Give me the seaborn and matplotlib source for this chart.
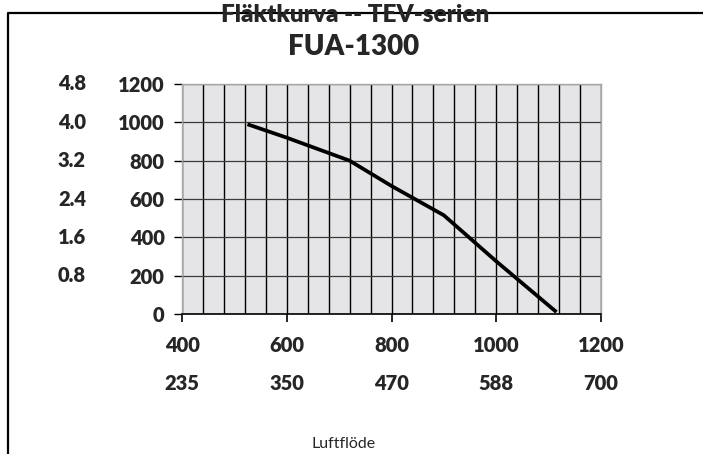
import matplotlib
matplotlib.use("Agg")
import matplotlib.pyplot as plt
import matplotlib.transforms as mtransforms
from matplotlib.lines import Line2D
import numpy as np
import pandas as pd
import seaborn as sns

# Fan curve
flow = [525, 600, 720, 800, 900, 1000, 1115]
pressure = [990, 920, 800, 668, 515, 275, 10]

# Axis ticks and the secondary label rows
x_ticks = [400, 600, 800, 1000, 1200]
x_alt_labels = ["235", "350", "470", "588", "700"]
y_ticks = [0, 200, 400, 600, 800, 1000, 1200]
y_alt_pos = [1200, 1000, 800, 600, 400, 200]
y_alt_labels = ["4.8", "4.0", "3.2", "2.4", "1.6", "0.8"]

title_top = "Fläktkurva -- TEV-serien"
title_model = "FUA-1300"
x_title = "Luftflöde"

sns.set_style("white")
plt.rcParams["font.family"] = ["Lato", "DejaVu Sans"]
HEAVY = "heavy"

W, H = 703, 454
fig = plt.figure(figsize=(W / 100, H / 100), dpi=100)
ax = fig.add_axes([182 / W, 1 - 314 / H, (601 - 182) / W, (314 - 84) / H])
ax.set_facecolor("#e5e5e7")

df = pd.DataFrame({"flow": flow, "pressure": pressure})
sns.lineplot(data=df, x="flow", y="pressure", color="black", linewidth=2.7,
             ax=ax, zorder=5, solid_capstyle="butt")

ax.set_xlim(400, 1200)
ax.set_ylim(0, 1200)
ax.set_xlabel("")
ax.set_ylabel("")

# grid: vertical lines every 40, horizontal every 200
ax.set_xticks(x_ticks)
ax.set_xticks(np.arange(440, 1200, 40), minor=True)
ax.set_yticks(y_ticks)
ax.grid(axis="x", which="both", color="black", linewidth=1.0, zorder=1)
ax.grid(axis="y", which="major", color="#3a3a3a", linewidth=0.9, zorder=1)
ax.set_axisbelow(True)

ax.tick_params(axis="x", which="major", direction="out", length=5.5, width=1.2,
               color="black", pad=10, labelsize=14.5, bottom=True)
ax.tick_params(axis="x", which="minor", length=0)
ax.tick_params(axis="y", direction="out", length=5.5, width=1.0,
               color="black", pad=7, labelsize=14.5, left=True)
ax.set_xticklabels([str(v) for v in x_ticks], fontweight=HEAVY)
ax.set_yticklabels([str(v) for v in y_ticks], fontweight=HEAVY)

for side in ["top", "right", "left"]:
    ax.spines[side].set_color("#a8a8a8")
    ax.spines[side].set_linewidth(1.0)
ax.spines["bottom"].set_color("black")
ax.spines["bottom"].set_linewidth(1.2)

# second row of x labels and the extra y column
xtrans = mtransforms.blended_transform_factory(ax.transData, fig.transFigure)
for xv, lab in zip(x_ticks, x_alt_labels):
    ax.text(xv, 1 - 383 / H, lab, transform=xtrans, ha="center", va="center",
            fontsize=14.5, fontweight=HEAVY)

ytrans = mtransforms.blended_transform_factory(fig.transFigure, ax.transData)
for yv, lab in zip(y_alt_pos, y_alt_labels):
    ax.text(86 / W, yv, lab, transform=ytrans, ha="right", va="center",
            fontsize=14.5, fontweight=HEAVY)

# outer frame (runs off the right and bottom edges)
frame = Line2D([8 / W, 8 / W, 1.0], [0.0, 1 - 13 / H, 1 - 13 / H],
               transform=fig.transFigure, color="black", linewidth=1.6)
fig.add_artist(frame)

fig.text(355 / W, 1 - 21.5 / H, title_top, ha="center", va="baseline",
         fontsize=17.5, fontweight=HEAVY)
fig.text(354 / W, 1 - 55 / H, title_model, ha="center", va="baseline",
         fontsize=20, fontweight=HEAVY)
fig.text(344 / W, 1 - 444 / H, x_title, ha="center", va="center", fontsize=11.5)

fig.savefig("out.png", dpi=100)
